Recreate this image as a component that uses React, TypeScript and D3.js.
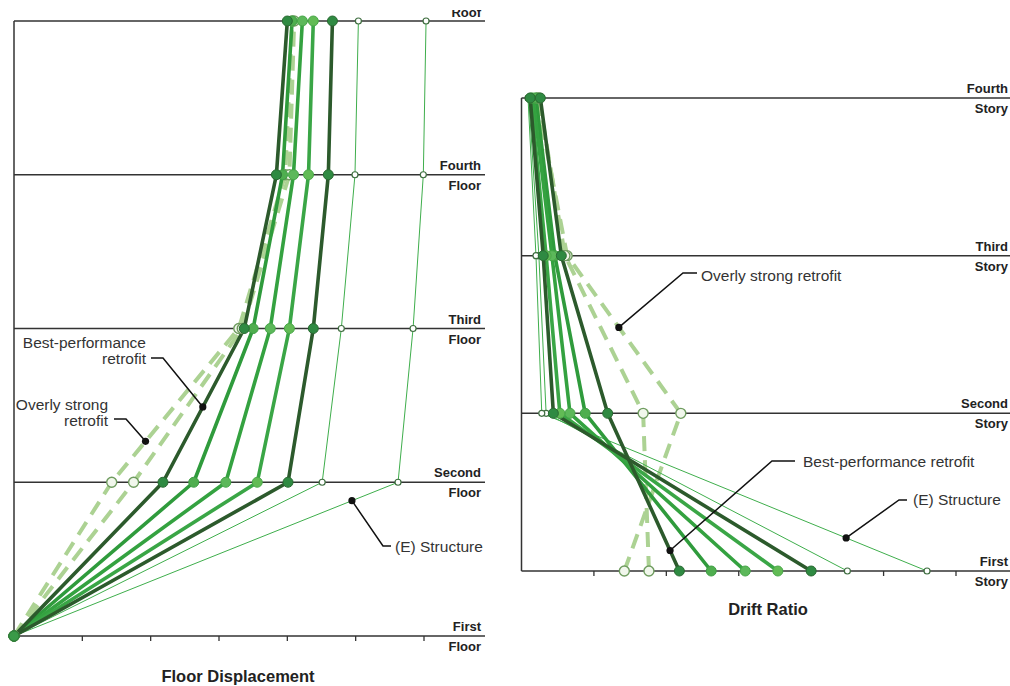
import React from "react";
import * as d3 from "d3";

// Level names (bottom to top)
const floorNames = ["First", "Second", "Third", "Fourth", "Roof"];
const storyNames = ["First", "Second", "Third", "Fourth"];
const displacementTicks = [1, 2, 3, 4, 5, 6];
const driftTicks = [1, 2, 3, 4, 5, 6];

// Floor displacement per floor (First → Roof), in tick units
const dispOverlyStrongA = [0, 1.43, 3.29, 3.97, 4.07];
const dispOverlyStrongB = [0, 1.75, 3.34, 4.03, 4.1];
const dispBestPerformance = [0, 2.18, 3.37, 3.84, 4.0];
const dispRetrofit3 = [0, 2.63, 3.5, 3.93, 4.07];
const dispRetrofit4 = [0, 3.1, 3.75, 4.09, 4.22];
const dispRetrofit5 = [0, 3.56, 4.03, 4.31, 4.38];
const dispRetrofit6 = [0, 4.01, 4.38, 4.6, 4.66];
const dispExistingA = [0, 4.51, 4.79, 4.99, 5.04];
const dispExistingB = [0, 5.62, 5.84, 5.99, 6.03];

// Drift ratio per story (First → Fourth), in tick units
const driftOverlyStrongA = [1.42, 2.2, 0.63, 0.21];
const driftOverlyStrongB = [1.76, 1.68, 0.6, 0.24];
const driftBestPerformance = [2.18, 1.19, 0.55, 0.26];
const driftRetrofit3 = [2.62, 0.88, 0.46, 0.2];
const driftRetrofit4 = [3.09, 0.67, 0.42, 0.16];
const driftRetrofit5 = [3.54, 0.53, 0.34, 0.13];
const driftRetrofit6 = [4.0, 0.44, 0.3, 0.12];
const driftExistingA = [4.5, 0.34, 0.24, 0.1];
const driftExistingB = [5.6, 0.28, 0.2, 0.09];

type Style = {
  stroke: string;
  width: number;
  dash?: string;
  r: number;
  mFill: string;
  mStroke: string;
  mWidth: number;
};

const overlyStyle: Style = { stroke: "#acd293", width: 4, dash: "15 9", r: 5, mFill: "#f1f7ec", mStroke: "#6f9c5f", mWidth: 1.4 };
const bestStyle: Style = { stroke: "#2c5a2c", width: 3.6, r: 5, mFill: "#2f8a42", mStroke: "#2a6a32", mWidth: 1 };
const existStyle: Style = { stroke: "#3fae4c", width: 1, r: 3, mFill: "#ffffff", mStroke: "#3f6e40", mWidth: 1.2 };
const greenStyles: Style[] = [
  { stroke: "#2f9b3c", width: 3.6, r: 5, mFill: "#4fae4f", mStroke: "#3f9f45", mWidth: 1 },
  { stroke: "#34a240", width: 3.6, r: 5, mFill: "#5cb85a", mStroke: "#46a648", mWidth: 1 },
  { stroke: "#3aa646", width: 3.6, r: 5, mFill: "#62bb55", mStroke: "#4aa94a", mWidth: 1 },
];

const dispSeries: { values: number[]; style: Style }[] = [
  { values: dispOverlyStrongA, style: overlyStyle },
  { values: dispOverlyStrongB, style: overlyStyle },
  { values: dispExistingA, style: existStyle },
  { values: dispExistingB, style: existStyle },
  { values: dispRetrofit3, style: greenStyles[0] },
  { values: dispRetrofit4, style: greenStyles[1] },
  { values: dispRetrofit5, style: greenStyles[2] },
  { values: dispRetrofit6, style: bestStyle },
  { values: dispBestPerformance, style: bestStyle },
];

const driftSeries: { values: number[]; style: Style }[] = [
  { values: driftOverlyStrongA, style: overlyStyle },
  { values: driftOverlyStrongB, style: overlyStyle },
  { values: driftExistingA, style: existStyle },
  { values: driftExistingB, style: existStyle },
  { values: driftRetrofit3, style: greenStyles[0] },
  { values: driftRetrofit4, style: greenStyles[1] },
  { values: driftRetrofit5, style: greenStyles[2] },
  { values: driftRetrofit6, style: bestStyle },
  { values: driftBestPerformance, style: bestStyle },
];

const FONT = "'Liberation Sans', Arial, Helvetica, sans-serif";

// Scales
const xL = d3.scaleLinear().domain([0, 6]).range([14, 424]);
const yL = d3.scaleLinear().domain([0, 4]).range([636, 21]);
const xR = d3.scaleLinear().domain([0, 6]).range([521.5, 956]);
const yR = d3.scaleLinear().domain([0, 3]).range([571, 98]);

const LEFT_END = 485;
const RIGHT_END = 1010;

function pointOn(
  values: number[],
  i: number,
  t: number,
  sx: d3.ScaleLinear<number, number>,
  sy: d3.ScaleLinear<number, number>
): [number, number] {
  const v = values[i] + (values[i + 1] - values[i]) * t;
  return [sx(v), sy(i + t)];
}

function SeriesLayer({
  series,
  sx,
  sy,
}: {
  series: { values: number[]; style: Style }[];
  sx: d3.ScaleLinear<number, number>;
  sy: d3.ScaleLinear<number, number>;
}) {
  const line = d3
    .line<number>()
    .x((d) => sx(d))
    .y((_, i) => sy(i));
  return (
    <g>
      {series.map((s, k) => (
        <path
          key={"l" + k}
          d={line(s.values) || ""}
          fill="none"
          stroke={s.style.stroke}
          strokeWidth={s.style.width}
          strokeDasharray={s.style.dash}
          strokeLinejoin="round"
        />
      ))}
      {series.map((s, k) =>
        s.values.map((v, i) => (
          <circle
            key={"m" + k + "-" + i}
            cx={sx(v)}
            cy={sy(i)}
            r={s.style.r}
            fill={s.style.mFill}
            stroke={s.style.mStroke}
            strokeWidth={s.style.mWidth}
          />
        ))
      )}
    </g>
  );
}

function Leader({ pts, dot }: { pts: [number, number][]; dot: [number, number] }) {
  const path = d3.line()([dot, ...pts]) || "";
  return (
    <g>
      <path d={path} fill="none" stroke="#111" strokeWidth={1.5} />
      <circle cx={dot[0]} cy={dot[1]} r={3.6} fill="#111" />
    </g>
  );
}

export default function App() {
  const labelStyle = { fontFamily: FONT, fontWeight: 700, fontSize: 13, fill: "#222" } as const;
  const noteStyle = { fontFamily: FONT, fontSize: 15.5, fill: "#333" } as const;
  const titleStyle = { fontFamily: FONT, fontWeight: 700, fontSize: 16.5, fill: "#222" } as const;

  return (
    <div style={{ position: "fixed", left: 0, top: 0, width: 1010, height: 686, background: "#fff" }}>
      <svg width={1010} height={686} viewBox="0 0 1010 686">
        <defs>
          <clipPath id="topClip">
            <rect x={0} y={10} width={1010} height={676} />
          </clipPath>
        </defs>
        <rect width={1010} height={686} fill="#fff" />

        {/* ---------- Floor displacement ---------- */}
        <g>
          {floorNames.map((n, i) => (
            <line key={n} x1={xL(0)} x2={LEFT_END} y1={yL(i)} y2={yL(i)} stroke="#333" strokeWidth={1.5} />
          ))}
          <line x1={xL(0)} x2={xL(0)} y1={yL(4)} y2={yL(0)} stroke="#333" strokeWidth={1.5} />
          {displacementTicks.map((t) => (
            <line key={t} x1={xL(t)} x2={xL(t)} y1={yL(0)} y2={yL(0) + 5} stroke="#333" strokeWidth={1.3} />
          ))}
          {floorNames.map((n, i) =>
            n === "Roof" ? (
              <text key={n} x={481} y={yL(i) - 4} textAnchor="end" clipPath="url(#topClip)" style={labelStyle}>
                {n}
              </text>
            ) : (
              <g key={n}>
                <text x={481} y={yL(i) - 5} textAnchor="end" style={labelStyle}>
                  {n}
                </text>
                <text x={481} y={yL(i) + 15} textAnchor="end" style={labelStyle}>
                  Floor
                </text>
              </g>
            )
          )}
          <SeriesLayer series={dispSeries} sx={xL} sy={yL} />
          <circle cx={xL(0)} cy={yL(0)} r={5} fill="#3a9a48" stroke="#2f7f3a" strokeWidth={1} />

          <text x={238} y={682} textAnchor="middle" style={titleStyle}>
            Floor Displacement
          </text>

          {/* annotations */}
          <text x={146} y={348} textAnchor="end" style={noteStyle}>
            Best-performance
          </text>
          <text x={146} y={364} textAnchor="end" style={noteStyle}>
            retrofit
          </text>
          <Leader
            dot={pointOn(dispBestPerformance, 1, 0.49, xL, yL)}
            pts={[
              [163, 358],
              [151, 358],
            ]}
          />
          <text x={108} y={410} textAnchor="end" style={noteStyle}>
            Overly strong
          </text>
          <text x={108} y={426} textAnchor="end" style={noteStyle}>
            retrofit
          </text>
          <Leader
            dot={pointOn(dispOverlyStrongA, 1, 0.266, xL, yL)}
            pts={[
              [126, 419],
              [114, 419],
            ]}
          />
          <text x={395} y={552} style={noteStyle}>
            (E) Structure
          </text>
          <Leader
            dot={pointOn(dispExistingB, 0, 0.88, xL, yL)}
            pts={[
              [383, 546],
              [391, 546],
            ]}
          />
        </g>

        {/* ---------- Drift ratio ---------- */}
        <g>
          {storyNames.map((n, i) => (
            <line key={n} x1={xR(0)} x2={RIGHT_END} y1={yR(i)} y2={yR(i)} stroke="#333" strokeWidth={1.5} />
          ))}
          <line x1={xR(0)} x2={xR(0)} y1={yR(3)} y2={yR(0)} stroke="#333" strokeWidth={1.5} />
          {driftTicks.map((t) => (
            <line key={t} x1={xR(t)} x2={xR(t)} y1={yR(0)} y2={yR(0) + 5} stroke="#333" strokeWidth={1.3} />
          ))}
          {storyNames.map((n, i) => (
            <g key={n}>
              <text x={1008} y={yR(i) - 5} textAnchor="end" style={labelStyle}>
                {n}
              </text>
              <text x={1008} y={yR(i) + 15} textAnchor="end" style={labelStyle}>
                Story
              </text>
            </g>
          ))}
          <SeriesLayer series={driftSeries} sx={xR} sy={yR} />

          <text x={768} y={615} textAnchor="middle" style={titleStyle}>
            Drift Ratio
          </text>

          {/* annotations */}
          <text x={701} y={281} style={noteStyle}>
            Overly strong retrofit
          </text>
          <Leader
            dot={pointOn(driftOverlyStrongA, 1, 0.545, xR, yR)}
            pts={[
              [683, 273],
              [697, 273],
            ]}
          />
          <text x={803} y={467} style={noteStyle}>
            Best-performance retrofit
          </text>
          <Leader
            dot={pointOn(driftBestPerformance, 0, 0.13, xR, yR)}
            pts={[
              [772, 461],
              [795, 461],
            ]}
          />
          <text x={913} y={505} style={noteStyle}>
            (E) Structure
          </text>
          <Leader
            dot={pointOn(driftExistingB, 0, 0.21, xR, yR)}
            pts={[
              [899, 500],
              [907, 500],
            ]}
          />
        </g>
      </svg>
    </div>
  );
}
